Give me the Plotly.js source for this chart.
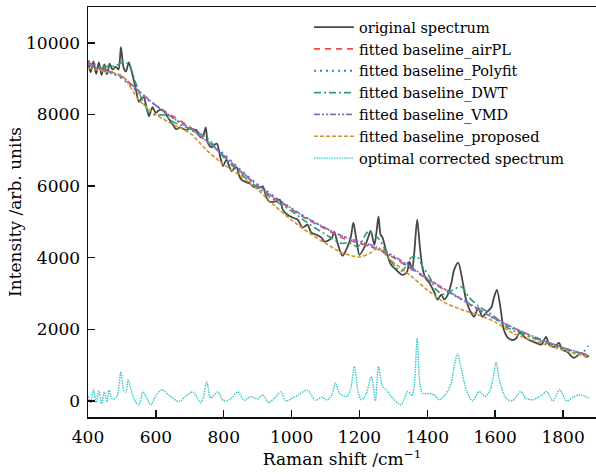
<!DOCTYPE html>
<html>
<head>
<meta charset="utf-8">
<script src="https://cdn.plot.ly/plotly-3.0.1.min.js"></script>
<style>html,body{margin:0;padding:0;background:#fff;}#chart{width:596px;height:474px;}</style>
</head>
<body>
<div id="chart"></div>
<script>
// Raman shift (cm^-1) and intensities
const origX = [400,408,416,424,432,440,448,456,464,472,482,490,497,505,512,520,530,541,550,558,565,572,580,590,600,610,620,630,640,650,660,670,680,690,700,710,720,732,740,747,753,764,772,780,790,798,808,815,823,830,838,845,852,867,876,886,897,906,915,926,935,945,955,965,974,988,1003,1018,1032,1040,1047,1058,1073,1088,1097,1112,1120,1126,1135,1150,1165,1175,1182,1191,1200,1215,1227,1233,1244,1250,1256,1262,1268,1279,1293,1308,1326,1340,1347,1355,1362,1370,1378,1386,1395,1406,1421,1430,1441,1450,1460,1471,1479,1491,1503,1514,1529,1538,1550,1562,1573,1588,1597,1605,1615,1625,1635,1650,1662,1673,1685,1700,1720,1735,1750,1759,1773,1788,1797,1812,1832,1853,1868,1876];
const origY = [9450,9180,9480,9130,9450,9100,9400,9120,9420,9250,9330,9250,9880,9300,9200,9450,9150,8700,8350,8450,8470,8200,7950,8200,8050,8120,8130,8000,7850,7720,7580,7640,7600,7560,7620,7580,7560,7360,7420,7640,7210,7080,7150,7180,6800,6560,6740,6580,6420,6480,6520,6300,6180,6100,6080,5990,5960,5950,5990,5680,5560,5560,5580,5620,5340,5200,5120,5060,4840,4880,4920,4700,4640,4560,4450,4500,4580,4720,4420,4050,4310,4600,4980,4500,4080,4300,4600,4750,4360,4700,5150,4650,4560,4170,3800,3660,3520,3600,3890,3660,4200,5060,4300,3700,3420,3300,3020,2830,2970,2830,2960,3300,3660,3860,3380,2830,2460,2350,2600,2350,2460,2600,2910,3100,2630,2000,1790,1700,1750,1930,1790,1700,1620,1570,1790,1570,1510,1620,1430,1370,1200,1340,1230,1260];

const baseX = [400,450,500,550,600,650,700,750,800,850,900,950,1000,1050,1100,1150,1200,1250,1300,1350,1400,1450,1500,1550,1600,1650,1700,1750,1800,1850,1875];
const airplY = [9450,9250,9050,8650,8250,7950,7650,7250,6850,6400,6000,5650,5350,5050,4800,4550,4400,4250,4000,3700,3400,3100,2850,2550,2300,2050,1850,1650,1480,1330,1260];
const polyY = [9500,9250,9000,8600,8250,7900,7600,7250,6900,6450,6050,5700,5380,5080,4820,4600,4420,4250,4020,3720,3420,3120,2830,2550,2280,2030,1810,1620,1460,1300,1540];
const vmdY = [9400,9200,9050,8650,8250,7900,7620,7250,6850,6420,6020,5670,5370,5080,4830,4600,4450,4300,4050,3750,3430,3130,2850,2570,2300,2060,1850,1660,1490,1350,1290];

const dwtX = [400,430,460,480,500,520,540,560,580,600,625,650,700,750,800,850,900,950,1000,1050,1100,1145,1170,1195,1227,1259,1282,1308,1326,1352,1370,1386,1406,1426,1450,1475,1500,1524,1553,1592,1632,1673,1700,1750,1800,1850,1875];
const dwtY = [9400,9300,9350,9350,9450,9400,8900,8400,8050,7980,7980,7800,7600,7350,6800,6350,5950,5600,5300,4950,4650,4400,4420,4310,4730,4500,4080,3720,3630,4000,4030,3750,3470,3100,2970,3100,3190,2880,2630,2400,2070,1880,1800,1640,1480,1330,1280];

const propX = [400,450,500,550,600,650,700,750,800,850,900,950,1000,1050,1100,1150,1200,1230,1255,1290,1350,1400,1450,1500,1550,1600,1650,1700,1750,1800,1850,1875];
const propY = [9300,9200,9080,8400,8000,7720,7480,7000,6600,6280,5900,5450,5050,4700,4400,4130,4020,4120,4260,3950,3500,3100,2750,2550,2400,2200,1900,1720,1570,1420,1290,1230];

const corrX = [400,408,416,424,432,440,448,456,462,472,485,497,505,512,518,530,541,550,562,572,585,600,618,640,668,690,709,732,740,750,762,782,800,820,841,860,880,900,915,932,950,968,982,1000,1020,1046,1070,1090,1105,1120,1129,1141,1161,1173,1185,1195,1205,1220,1235,1247,1256,1268,1280,1298,1322,1342,1355,1362,1370,1378,1386,1405,1420,1435,1455,1470,1480,1489,1500,1515,1533,1553,1570,1585,1595,1603,1612,1632,1650,1675,1690,1710,1735,1752,1770,1790,1810,1832,1850,1876];
const corrY = [130,-60,310,-50,280,-80,250,-30,300,50,120,810,300,250,590,200,-40,-110,250,100,-110,150,310,150,-20,150,250,-50,100,530,80,250,0,50,250,20,120,50,170,-50,80,250,0,60,170,300,20,100,20,200,500,215,120,300,960,300,30,200,680,0,960,400,300,75,-110,260,150,500,1750,500,215,200,170,30,200,500,1000,1320,900,300,0,260,120,300,700,1080,600,75,0,260,75,30,150,260,0,310,0,120,170,75];

const seriesNames = ['original spectrum','fitted baseline_airPL','fitted baseline_Polyfit','fitted baseline_DWT','fitted baseline_VMD','fitted baseline_proposed','optimal corrected spectrum'];
const xTicks = [400,600,800,1000,1200,1400,1600,1800];
const yTicks = [0,2000,4000,6000,8000,10000];

const FONT = 'DejaVu Serif, Liberation Serif, serif';
function tr(x, y, name, color, dash, width) {
  return {x: x, y: y, name: name, type: 'scatter', mode: 'lines',
    line: {color: color, dash: dash, width: width, shape: 'spline', smoothing: 0.8}};
}
const data = [
  tr(origX, origY, seriesNames[0], '#474747', 'solid', 1.8),
  tr(baseX, airplY, seriesNames[1], '#f24a4a', '6px,5px', 1.6),
  tr(baseX, polyY, seriesNames[2], '#2f7fe0', '2px,4px', 1.8),
  tr(dwtX, dwtY, seriesNames[3], '#23a36b', '7px,3px,2px,3px', 1.6),
  tr(baseX, vmdY, seriesNames[4], '#8c6cc6', '6px,2px,2px,2px,2px,2px', 1.6),
  tr(propX, propY, seriesNames[5], '#d4922a', '4px,2px', 1.6),
  tr(corrX, corrY, seriesNames[6], '#36c6c9', '1.5px,1px', 1.4)
];
const layout = {
  width: 596, height: 474,
  margin: {l: 88, r: 0, t: 7, b: 57},
  paper_bgcolor: '#fff', plot_bgcolor: '#fff',
  font: {family: FONT, size: 17, color: '#000'},
  showlegend: true,
  legend: {x: 0.435, y: 0.99, xanchor: 'left', yanchor: 'top', bgcolor: 'rgba(0,0,0,0)',
    font: {family: FONT, size: 14.5, color: '#000'}, itemwidth: 40, tracegroupgap: 0},
  xaxis: {range: [400, 1897], tickvals: xTicks, ticktext: xTicks.map(String),
    ticks: 'inside', ticklen: 7, tickwidth: 1.5, tickcolor: '#111',
    showline: true, linewidth: 1.5, linecolor: '#111', mirror: true,
    showgrid: false, zeroline: false, ticklabelstandoff: 4, automargin: false,
    title: {text: 'Raman shift /cm<sup>−1</sup>', font: {family: FONT, size: 17}, standoff: 6}},
  yaxis: {range: [-450, 11000], tickvals: yTicks, ticktext: yTicks.map(String),
    ticks: 'inside', ticklen: 7, tickwidth: 1.5, tickcolor: '#111',
    showline: true, linewidth: 1.5, linecolor: '#111', mirror: true,
    showgrid: false, zeroline: false, ticklabelstandoff: 3, automargin: false,
    title: {text: 'Intensity /arb. units', font: {family: FONT, size: 17}, standoff: 0}}
};
Plotly.newPlot('chart', data, layout, {displayModeBar: false, staticPlot: true});
</script>
</body>
</html>
